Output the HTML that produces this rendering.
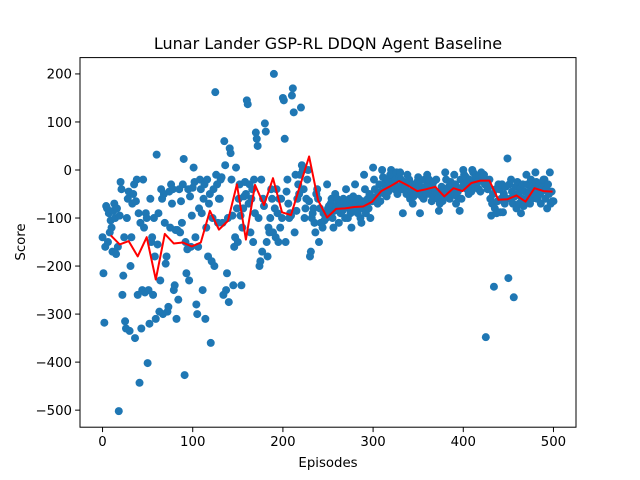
<!DOCTYPE html>
<html><head><meta charset="utf-8"><style>
body{margin:0;background:#fff}
svg{display:block;font-family:"DejaVu Sans","Liberation Sans",sans-serif}
</style></head><body>
<svg id="chart" width="640" height="480">
<rect x="0" y="0" width="640" height="480" fill="#fff"/>
<text x="328" y="49" font-size="16" text-anchor="middle">Lunar Lander GSP-RL DDQN Agent Baseline</text>
<g id="plot"></g>
<rect x="80" y="57.6" width="496" height="369.6" fill="none" stroke="#000" stroke-width="1"/>
<text x="328" y="467" font-size="13.3" text-anchor="middle">Episodes</text>
<text transform="translate(25,242) rotate(-90)" font-size="13.3" text-anchor="middle">Score</text>
</svg>
<script>
const scores = [
-140,-215,-318,-160,-75,-80,-150,-90,-130,-105,
-120,-170,-85,-70,-100,-175,-80,-160,-502,-95,
-25,-40,-260,-220,-140,-315,-330,-100,-60,-45,
-335,-200,-140,-70,-50,-30,-350,-65,-20,-260,
-90,-443,-110,-330,-250,-20,-120,-255,-90,-100,
-402,-250,-320,-60,-150,-140,-260,-100,-180,-310,
32,-155,-90,-295,-230,-40,-60,-300,-50,-110,
-195,-180,-295,-285,-45,-120,-30,-70,-40,-250,
-240,-125,-310,-125,-270,-40,-130,-65,-110,-30,
23,-427,-150,-215,-165,-40,-230,-55,-160,-95,
-37,5,-25,-140,-280,-300,-160,-80,-20,-40,
-90,-250,-60,-30,-310,-120,-20,-180,-70,-50,
-360,-190,-100,-40,-200,162,-10,-30,-110,-60,
-60,-20,-15,-110,-260,60,10,-250,-215,-100,
-275,45,35,-20,-95,-240,-160,-140,5,-80,
-150,-60,-30,-95,-240,-120,-80,-55,-25,-50,
145,137,-70,-30,-130,-60,-40,-150,-20,-90,
78,65,50,-100,-200,-190,-20,-170,-60,-75,
97,80,-150,-180,-120,-130,-100,-40,-60,-130,
200,-80,-140,-40,-90,-150,-60,-120,-60,-100,
150,145,65,-150,-45,-20,-70,-100,-90,-95,
155,170,120,-130,-10,-85,-60,-30,-50,-10,
130,10,0,-40,-100,-80,-60,-20,0,-65,
-180,-170,-100,-90,-80,-110,-130,-50,-40,-60,
-150,-80,-110,-110,-120,-90,-105,-95,-100,-30,
-80,-75,-90,-70,-60,-100,-120,-85,-50,-80,
-60,-70,-110,-75,-90,-80,-85,-60,-65,-100,
-40,-70,-100,-80,-60,-90,-120,-70,-55,-85,
-30,-70,-80,-90,-60,-75,-100,-110,-65,-80,
-10,-40,-90,-70,-60,-80,-50,-100,-55,-65,
5,-20,-40,-60,-55,-70,-50,-30,-65,-45,
0,-15,-30,-50,-40,-55,-20,-45,-35,-10,
0,-10,-25,-30,-40,-20,-5,-50,-35,-15,
-5,-20,-40,-90,-30,-25,-35,-50,-10,-25,
-20,-60,-45,-30,-70,-55,-35,-40,-50,-25,
-15,-30,-90,-45,-55,-40,-60,-20,-35,-50,
-10,-30,-20,-50,-40,-65,-35,-25,-55,-45,
-20,-50,-60,-85,-70,-45,-35,-65,-55,-40,
-5,-20,-40,-55,-35,-60,-25,-45,-30,-50,
-10,-30,-70,-55,-45,-40,-85,-20,-60,-35,
0,-10,-30,-15,-40,-25,-50,-20,-35,-45,
0,-5,-20,-35,-15,-30,-25,-40,-10,-45,
-5,-15,-20,-10,-30,-348,-25,-40,-35,-20,
-60,-95,-70,-50,-243,-80,-40,-90,-65,-30,
-40,-88,-60,-30,-88,-50,-70,-35,-60,24,
-225,-30,-60,-20,-45,-70,-265,-55,-35,-80,
-25,-50,-70,-40,-90,-60,-30,-75,-45,-65,
-10,-30,-55,-45,-70,-20,-60,-35,-40,-50,
-5,-25,-60,-40,-30,-50,-70,-45,-35,-20,
-20,-60,-40,-80,-30,-50,-5,-70,-45,-65,
-65];
const avgEpisodes = [9,19,29,39,49,59,69,79,89,99,109,119,129,139,149,159,169,179,189,199,209,219,229,239,249,259,269,279,289,299,309,319,329,339,349,359,369,379,389,399,409,419,429,439,449,459,469,479,489,499];
const avgScores = [-136,-155,-148,-180,-140,-228,-133,-153,-151,-159,-151,-85,-124,-106,-30,-145,-31,-73,-17,-88,-94,-33,28,-63,-99,-81,-80,-77,-76,-66,-44,-34,-23,-33,-44,-40,-35,-55,-38,-44,-27,-22,-22,-62,-61,-53,-66,-38,-44,-45];
const xTicks = [0,100,200,300,400,500];
const yTicks = [-500,-400,-300,-200,-100,0,100,200];

const NS = "http://www.w3.org/2000/svg";
const X0=80, X1=576, Y0=57.6, Y1=427.2;
const xMin=-25, xMax=525, yMin=-535.5, yMax=234;
const sx = v => X0 + (v - xMin) / (xMax - xMin) * (X1 - X0);
const sy = v => Y1 - (v - yMin) / (yMax - yMin) * (Y1 - Y0);
const plot = document.getElementById('plot');
const svg = document.getElementById('chart');
function mk(tag, attrs, parent){ const e=document.createElementNS(NS,tag); for(const k in attrs) e.setAttribute(k,attrs[k]); (parent||plot).appendChild(e); return e; }
const fmt = v => v < 0 ? '\u2212' + Math.abs(v) : String(v);

scores.forEach((v,i)=>{
  const c = mk('circle',{cx:sx(i),cy:sy(v),r:4,fill:'#1f77b4'});
  
  
});
const pts = avgEpisodes.map((e,i)=>sx(e).toFixed(1)+','+sy(avgScores[i]).toFixed(1)).join(' ');
const line = mk('polyline',{points:pts,fill:'none',stroke:'#ff0000','stroke-width':2,'stroke-linejoin':'round'});



xTicks.forEach(t=>{
  const x=sx(t);
  const tk = mk('line',{x1:x,x2:x,y1:Y1,y2:Y1+4.9,stroke:'#000','stroke-width':1},svg);
  
  
  const tx = mk('text',{x:x,y:Y1+19,'font-size':13.3,'text-anchor':'middle'},svg);
  tx.textContent = fmt(t);
  
  
});
yTicks.forEach(t=>{
  const y=sy(t);
  const tk = mk('line',{x1:X0-4.9,x2:X0,y1:y,y2:y,stroke:'#000','stroke-width':1},svg);
  
  
  const tx = mk('text',{x:X0-8,y:y+4.8,'font-size':13.3,'text-anchor':'end'},svg);
  tx.textContent = fmt(t);
  
  
});
</script>
</body></html>
